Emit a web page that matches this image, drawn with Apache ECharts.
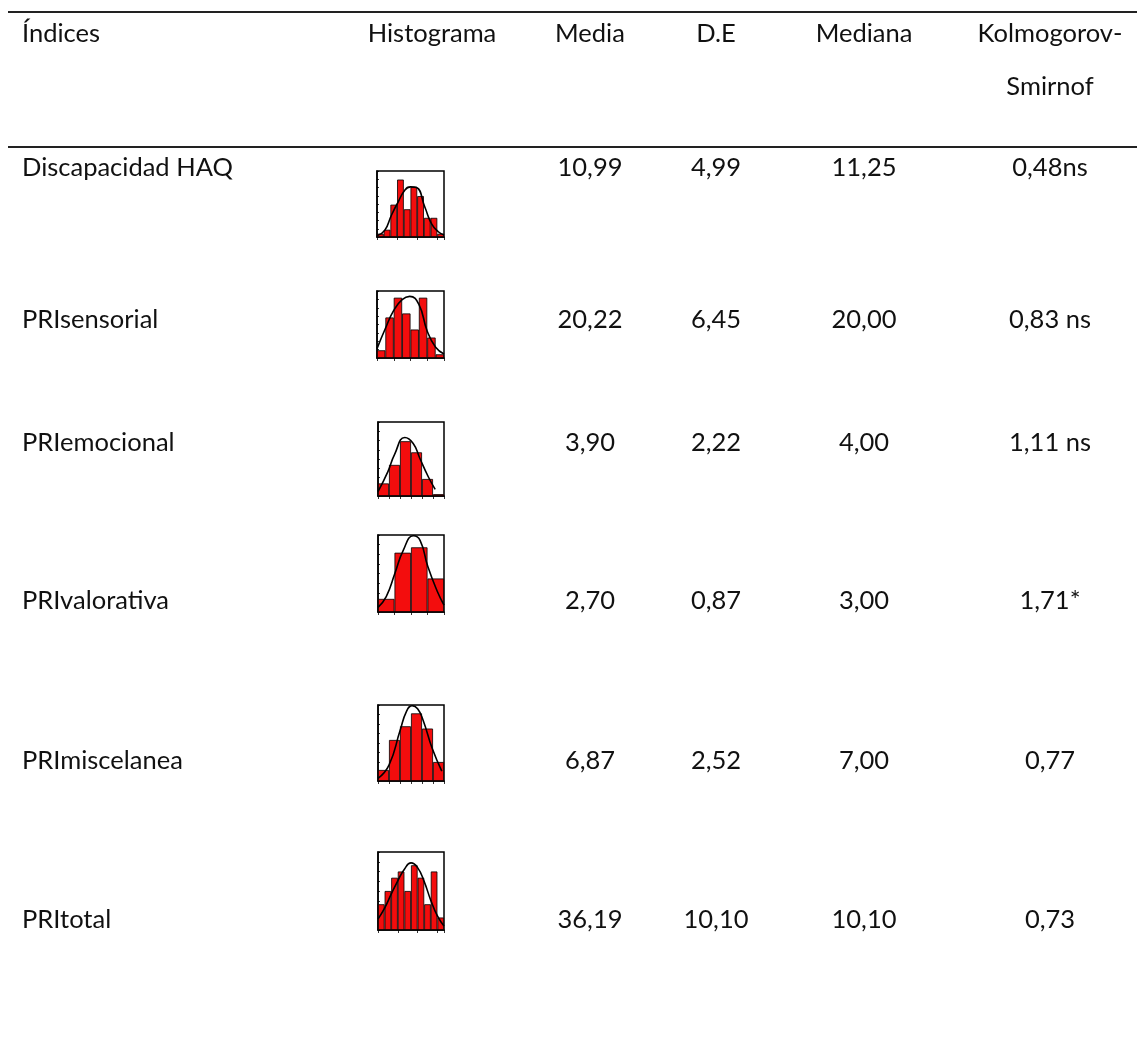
<!DOCTYPE html>
<html>
<head>
<meta charset="utf-8">
<script src="https://cdn.jsdelivr.net/npm/echarts@6/dist/echarts.min.js"></script>
<style>
html,body{margin:0;padding:0;background:#fff;}
#c{width:1137px;height:1052px;}
</style>
</head>
<body>
<div id="c"></div>
<script>
// ---- table content ----
const headers = ['Índices', 'Histograma', 'Media', 'D.E', 'Mediana', 'Kolmogorov-', 'Smirnof'];
const indices = ['Discapacidad HAQ', 'PRIsensorial', 'PRIemocional', 'PRIvalorativa', 'PRImiscelanea', 'PRItotal'];
const media   = ['10,99', '20,22', '3,90', '2,70', '6,87', '36,19'];
const de      = ['4,99', '6,45', '2,22', '0,87', '2,52', '10,10'];
const mediana = ['11,25', '20,00', '4,00', '3,00', '7,00', '10,10'];
const ks      = ['0,48ns', '0,83 ns', '1,11 ns', '1,71*', '0,77', '0,73'];

// ---- histogram bar heights (percent of panel height) ----
const barsHAQ   = [5, 11, 49, 87, 42, 76, 62, 29, 29, 5];
const barsSens  = [11.5, 60.5, 90, 66.5, 42.5, 90, 30.5, 5.5];
const barsEmo   = [17, 42, 74, 59, 23, 2.5];
const barsVal   = [17, 77, 84, 43.5];
const barsMisc  = [14.5, 54, 72, 89, 69, 25];
const barsTotal = [33, 50, 67, 75, 50, 83, 67, 33, 75, 16];

// ---- fitted curve points: [bin position, percent height] ----
const curveHAQ   = [[0,2],[1.15,10],[2.15,33],[3.15,53],[4.15,71],[5,76],[5.9,75],[7.15,45],[8.15,20],[9.15,8],[10,3]];
const curveSens  = [[0,14],[1,44],[2,71],[3,87],[3.9,92],[5,80],[6,40],[7,16],[8,6]];
const curveEmo   = [[0,6],[0.9,33],[1.5,56],[2.44,79],[3.2,71],[3.8,51],[4.57,26],[5.2,9]];
const curveVal   = [[0,6],[0.5,20],[1.02,50],[1.53,80],[2.14,99],[2.55,93],[3.02,59],[3.57,28],[4,9]];
const curveMisc  = [[0,3.5],[1,21],[2,66],[2.6,92],[3.1,99],[3.6,95],[4.1,80],[4.95,42],[5.8,13]];
const curveTotal = [[0,14],[1,28],[2,46],[3,63],[4,78],[5,86],[6,80],[7,62],[8,38],[9,18],[10,5]];

const hists = [
  {bars: barsHAQ,   curve: curveHAQ},
  {bars: barsSens,  curve: curveSens},
  {bars: barsEmo,   curve: curveEmo},
  {bars: barsVal,   curve: curveVal},
  {bars: barsMisc,  curve: curveMisc},
  {bars: barsTotal, curve: curveTotal}
];

// ---- layout ----
const boxes = [
  {left: 377, top: 171, width: 67, height: 66},
  {left: 377, top: 291, width: 67, height: 67},
  {left: 378, top: 422, width: 66, height: 74},
  {left: 378, top: 535, width: 66, height: 77},
  {left: 378, top: 705, width: 66, height: 76},
  {left: 378, top: 852, width: 66, height: 78}
];
const rowY = [168, 320, 443, 601, 761, 920];
const colX = {label: 22, media: 590, de: 716, mediana: 864, ks: 1050};
const FONT = '25.5px Lato, "Open Sans", sans-serif';
const TXT = '#111';

const chart = echarts.init(document.getElementById('c'), null, {renderer: 'canvas'});

const grid = [], xAxis = [], yAxis = [], series = [];
hists.forEach((h, i) => {
  const b = boxes[i];
  grid.push({left: b.left, top: b.top, width: b.width, height: b.height,
    show: true, borderColor: '#000', borderWidth: 1.5, backgroundColor: '#fff', containLabel: false});
  xAxis.push({type: 'category', gridIndex: i, data: h.bars.map((_, k) => k + 1),
    boundaryGap: true,
    axisLine: {show: true, lineStyle: {color: '#000', width: 1.5}},
    axisTick: {show: true, inside: false, length: 3, lineStyle: {color: '#000', width: 0.8}},
    axisLabel: {show: false}, splitLine: {show: false}});
  xAxis.push({type: 'value', gridIndex: i, min: 0, max: h.bars.length, show: false});
  yAxis.push({type: 'value', gridIndex: i, min: 0, max: 100, interval: 12.5,
    axisLine: {show: true, lineStyle: {color: '#000', width: 1.5}},
    axisTick: {show: true, inside: true, length: 2, lineStyle: {color: '#000', width: 0.8}},
    axisLabel: {show: false}, splitLine: {show: false}});
  series.push({type: 'bar', xAxisIndex: i * 2, yAxisIndex: i, data: h.bars,
    barCategoryGap: '0%', silent: true,
    itemStyle: {color: '#f30d0d', borderColor: '#000', borderWidth: 0.8}, z: 2});
  series.push({type: 'line', xAxisIndex: i * 2 + 1, yAxisIndex: i, data: h.curve,
    smooth: 0.5, showSymbol: false, silent: true,
    lineStyle: {color: '#000', width: 1.6}, z: 3});
});

const graphic = [];
// rules
[12, 147].forEach(y => graphic.push({type: 'line', shape: {x1: 8, y1: y, x2: 1137, y2: y},
  style: {stroke: '#222', lineWidth: 2}}));
function txt(t, x, y, align) {
  graphic.push({type: 'text', x: x, y: y,
    style: {text: t, font: FONT, fill: TXT, align: align, verticalAlign: 'middle',
            textAlign: align, textVerticalAlign: 'middle'}});
}
// header
txt(headers[0], colX.label, 34, 'left');
txt(headers[1], 432, 34, 'center');
txt(headers[2], colX.media, 34, 'center');
txt(headers[3], colX.de, 34, 'center');
txt(headers[4], colX.mediana, 34, 'center');
txt(headers[5], colX.ks, 34, 'center');
txt(headers[6], colX.ks, 87, 'center');
// rows
indices.forEach((name, i) => {
  const y = rowY[i];
  txt(name, colX.label, y, 'left');
  txt(media[i], colX.media, y, 'center');
  txt(de[i], colX.de, y, 'center');
  txt(mediana[i], colX.mediana, y, 'center');
  txt(ks[i], colX.ks, y, 'center');
});

chart.setOption({
  animation: false,
  backgroundColor: '#fff',
  grid, xAxis, yAxis, series, graphic
});
</script>
</body>
</html>
